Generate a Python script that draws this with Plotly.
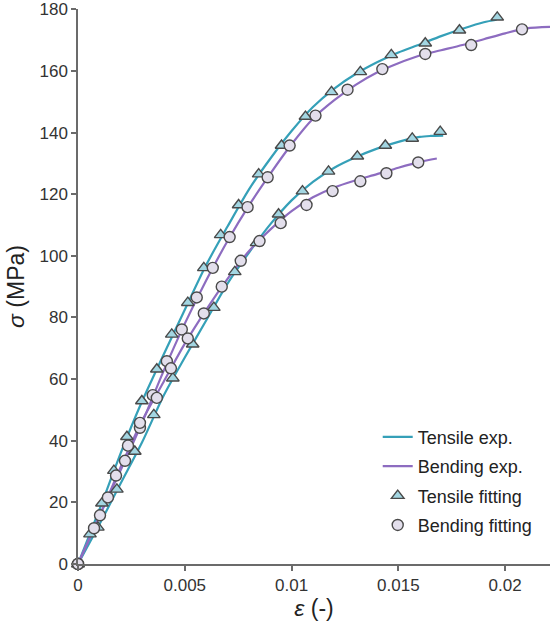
import plotly.graph_objects as go

# ---------------- data ----------------
# Experimental curves
t1_exp_x = [0, 0.001, 0.002, 0.003, 0.004, 0.005, 0.006, 0.007, 0.008, 0.009, 0.010, 0.011,
            0.012, 0.013, 0.014, 0.015, 0.016, 0.017, 0.018, 0.019, 0.0196]
t1_exp_y = [0, 17.6, 36.0, 52.8, 67.8, 82.5, 97.0, 109.5, 121.5, 131.5, 140.5, 148.3,
            154.3, 159.0, 162.8, 166.0, 168.6, 171.3, 173.7, 175.8, 176.6]

b1_exp_x = [0, 0.001, 0.002, 0.003, 0.004, 0.005, 0.006, 0.007, 0.008, 0.009, 0.010, 0.011,
            0.012, 0.013, 0.014, 0.015, 0.016, 0.017, 0.018, 0.019, 0.020, 0.021, 0.0221]
b1_exp_y = [0, 15.5, 30.5, 45.8, 62.5, 78.0, 92.0, 104.8, 116.3, 126.6, 136.2, 144.5,
            150.5, 155.5, 159.5, 162.5, 165.0, 166.7, 168.4, 170.3, 172.2, 173.8, 174.3]

t2_exp_x = [0, 0.001, 0.002, 0.003, 0.004, 0.005, 0.006, 0.007, 0.008, 0.009, 0.010, 0.011,
            0.012, 0.013, 0.014, 0.015, 0.016, 0.0165, 0.0171]
t2_exp_y = [0, 12.8, 26.2, 39.5, 54.5, 67.0, 79.0, 91.0, 101.0, 110.2, 118.0, 124.0,
            128.6, 132.0, 134.8, 137.0, 138.6, 138.9, 139.0]

b2_exp_x = [0, 0.001, 0.002, 0.003, 0.004, 0.005, 0.006, 0.007, 0.008, 0.009, 0.010, 0.011,
            0.012, 0.013, 0.014, 0.015, 0.016, 0.0168]
b2_exp_y = [0, 15.4, 31.5, 46.5, 59.0, 71.5, 82.5, 92.5, 101.5, 108.5, 114.5, 119.0,
            122.2, 124.5, 126.5, 128.6, 130.5, 131.6]

# Fitting points
t1_fit_x = [0, 0.00056, 0.00112, 0.00168, 0.00229, 0.00299, 0.00369, 0.00439, 0.00514, 0.00589,
            0.00668, 0.00752, 0.00846, 0.00953, 0.01065, 0.01187, 0.01322, 0.01467, 0.01626,
            0.01786, 0.01963]
t1_fit_y = [0, 9.7, 19.7, 30.3, 41.3, 52.9, 63.2, 74.5, 84.8, 96.1, 106.8, 116.5, 126.5, 135.8,
            145.2, 153.2, 159.7, 165.2, 169.0, 173.2, 177.4]

b1_fit_x = [0, 0.00075, 0.0014, 0.0022, 0.0029, 0.0035, 0.00416, 0.00486, 0.00556, 0.00631,
            0.0071, 0.00794, 0.00888, 0.00991, 0.01112, 0.01262, 0.01425, 0.01626, 0.01841, 0.02079]
b1_fit_y = [0, 11.6, 21.6, 33.5, 44.2, 54.8, 65.8, 76.1, 86.5, 96.1, 106.1, 115.8, 125.5,
            135.8, 145.5, 153.9, 160.6, 165.5, 168.4, 173.5]

t2_fit_x = [0, 0.00093, 0.00182, 0.00266, 0.00355, 0.00444, 0.00537, 0.00636, 0.00734, 0.00836,
            0.00939, 0.01051, 0.01173, 0.01308, 0.01439, 0.01565, 0.01696]
t2_fit_y = [0, 11.9, 24.2, 36.5, 48.4, 60.3, 71.3, 83.2, 94.8, 104.2, 113.5, 121.0, 127.4,
            132.3, 135.8, 138.1, 140.3]

b2_fit_x = [0, 0.00103, 0.00178, 0.00234, 0.0029, 0.00369, 0.00435, 0.00514, 0.00589, 0.00673,
            0.00762, 0.0085, 0.00949, 0.0107, 0.01192, 0.01322, 0.01444, 0.01593]
b2_fit_y = [0, 15.8, 28.7, 38.4, 45.8, 53.9, 63.5, 73.2, 81.3, 90.0, 98.4, 104.8, 110.6,
            116.5, 121.0, 124.2, 126.8, 130.3]

x_tickvals = [0, 0.005, 0.01, 0.015, 0.02]
x_ticktext = ["0", "0.005", "0.01", "0.015", "0.02"]
y_tickvals = [0, 20, 40, 60, 80, 100, 120, 140, 160, 180]

# ---------------- styling ----------------
TEAL = "#35a0b8"
PURPLE = "#8d6cc0"
TRI_FILL = "#a3d6e2"
CIRC_FILL = "#e3dfec"
EDGE = "#4a4a4a"
FONT = "Liberation Sans, Arial, sans-serif"

fig = go.Figure()

def add_line(x, y, color, name, show):
    fig.add_trace(go.Scatter(x=x, y=y, mode="lines", line=dict(color=color, width=2.2, shape="spline", smoothing=0.8),
                             name=name, legendgroup=name, showlegend=show))

add_line(t1_exp_x, t1_exp_y, TEAL, "Tensile exp.", True)
add_line(t2_exp_x, t2_exp_y, TEAL, "Tensile exp.", False)
add_line(b1_exp_x, b1_exp_y, PURPLE, "Bending exp.", True)
add_line(b2_exp_x, b2_exp_y, PURPLE, "Bending exp.", False)

def add_pts(x, y, symbol, fill, name, show, size):
    fig.add_trace(go.Scatter(x=x, y=y, mode="markers",
                             marker=dict(symbol=symbol, size=size, color=fill,
                                         line=dict(color=EDGE, width=1.4)),
                             name=name, legendgroup=name, showlegend=show, cliponaxis=False))

add_pts(t1_fit_x, t1_fit_y, "triangle-up", TRI_FILL, "Tensile fitting", True, 11)
add_pts(t2_fit_x, t2_fit_y, "triangle-up", TRI_FILL, "Tensile fitting", False, 11)
add_pts(b1_fit_x, b1_fit_y, "circle", CIRC_FILL, "Bending fitting", True, 11)
add_pts(b2_fit_x, b2_fit_y, "circle", CIRC_FILL, "Bending fitting", False, 11)

axis_common = dict(showgrid=False, zeroline=False, showline=True, linecolor="#6b6b6b", linewidth=1.5,
                   ticks="outside", ticklen=5, tickwidth=1.5, tickcolor="#6b6b6b",
                   tickfont=dict(family=FONT, size=17, color="#333333"))

fig.update_layout(
    width=550, height=631,
    margin=dict(l=78, r=0, t=9, b=67),
    paper_bgcolor="white", plot_bgcolor="white",
    font=dict(family=FONT, color="#222222"),
    xaxis=dict(range=[0, 0.0221], tickvals=x_tickvals, ticktext=x_ticktext,
               title=dict(text="<i>ε</i> (-)", font=dict(family=FONT, size=23, color="#222222"), standoff=6),
               **axis_common),
    yaxis=dict(range=[0, 180.1], tickvals=y_tickvals,
               title=dict(text="<i>σ</i> (MPa)", font=dict(family=FONT, size=23, color="#222222"), standoff=8),
               **axis_common),
    legend=dict(x=0.635, y=0.262, xanchor="left", yanchor="top", bgcolor="rgba(0,0,0,0)",
                font=dict(family=FONT, size=18, color="#222222"), tracegroupgap=3, traceorder="grouped"),
    showlegend=True,
)

fig.write_html("out.html")
